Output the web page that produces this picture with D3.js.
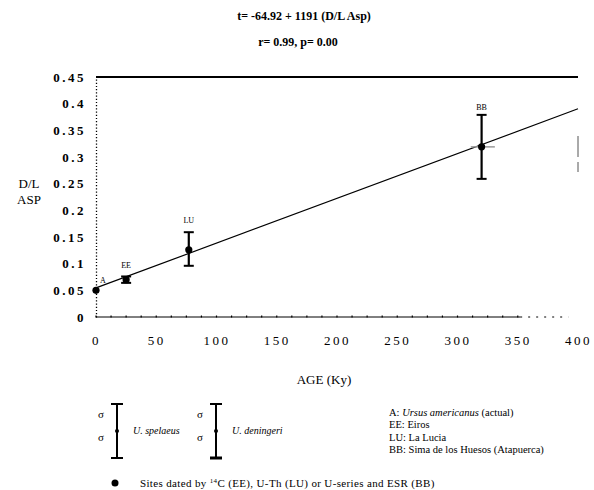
<!DOCTYPE html>
<html>
<head>
<meta charset="utf-8">
<script src="https://cdn.jsdelivr.net/npm/d3@7"></script>
<style>
  html, body { margin: 0; padding: 0; background: #fff; }
  svg { display: block; font-family: "Liberation Serif", "Times New Roman", serif; }
</style>
</head>
<body>
<svg id="chart" width="594" height="490"></svg>
<script>
// Sites and their aspartic acid racemization (D/L Asp) against age
const siteCodes = ["A", "EE", "LU", "BB"];
const siteAges = [0, 25, 77, 320];
const siteDL = [0.05, 0.070, 0.126, 0.319];
const dlLow = [null, 0.064, 0.096, 0.259];
const dlHigh = [null, 0.076, 0.159, 0.379];
const ageLow = [null, null, null, 311];
const ageHigh = [null, null, null, 331];

// Regression t = a + b * (D/L Asp)
const fitIntercept = -64.92;
const fitSlope = 1191;
const fitAges = [0, 400];

const xTicks = [0, 50, 100, 150, 200, 250, 300, 350, 400];
const yTicks = [0, 0.05, 0.1, 0.15, 0.2, 0.25, 0.3, 0.35, 0.4, 0.45];
const yTickLabels = ["0", "0.05", "0.1", "0.15", "0.2", "0.25", "0.3", "0.35", "0.4", "0.45"];

const siteNames = [
  ["A: ", "Ursus americanus", " (actual)"],
  ["EE: ", "", "Eiros"],
  ["LU: ", "", "La Lucia"],
  ["BB: ", "", "Sima de los Huesos (Atapuerca)"]
];
const speciesNames = ["U. spelaeus", "U. deningeri"];

const svg = d3.select("#chart");

const x = d3.scaleLinear().domain([0, 400]).range([96, 578]);
const y = d3.scaleLinear().domain([0, 0.45]).range([317, 77]);

// Header lines
svg.append("text").attr("x", 304).attr("y", 20).attr("text-anchor", "middle")
  .attr("font-size", 12).attr("font-weight", "bold")
  .text("t= -64.92 + 1191 (D/L Asp)");
svg.append("text").attr("x", 298).attr("y", 46).attr("text-anchor", "middle")
  .attr("font-size", 12).attr("font-weight", "bold")
  .text("r= 0.99, p= 0.00");

// Top frame line
svg.append("line").attr("x1", x(0)).attr("x2", x(400)).attr("y1", y(0.45)).attr("y2", y(0.45))
  .attr("stroke", "#000").attr("stroke-width", 2);

// Y axis (dotted)
const yAxis = d3.axisLeft(y).tickValues(yTicks).tickSize(0)
  .tickFormat((d, i) => yTickLabels[i]);
const gy = svg.append("g").attr("transform", `translate(${x(0)},0)`).call(yAxis);
gy.select(".domain").attr("stroke", "#000").attr("stroke-dasharray", "1.2,2").attr("stroke-width", 1.3);
gy.selectAll("text").attr("x", -10).attr("font-size", 13).attr("font-weight", "bold")
  .attr("letter-spacing", "2.5px").attr("font-family", "Liberation Serif").attr("fill", "#000");

// X axis: solid with small ticks, fading to dashes at the right end
const xAxis = d3.axisBottom(x).tickValues(xTicks).tickSize(0).tickFormat(d3.format("d"));
const gx = svg.append("g").attr("transform", `translate(0,${y(0)})`).call(xAxis);
gx.select(".domain").remove();
gx.selectAll("text").attr("dy", "1.9em").attr("font-size", 13)
  .attr("letter-spacing", "2.5px").attr("font-family", "Liberation Serif").attr("fill", "#000");
gx.append("line").attr("x1", x(0)).attr("x2", x(352)).attr("y1", 0).attr("y2", 0)
  .attr("stroke", "#000").attr("stroke-width", 1);
gx.append("line").attr("x1", x(352)).attr("x2", x(392)).attr("y1", 0).attr("y2", 0)
  .attr("stroke", "#000").attr("stroke-width", 1).attr("stroke-dasharray", "2,6");
gx.selectAll("line.minor").data(d3.range(0, 351, 12.5)).join("line").attr("class", "minor")
  .attr("x1", d => x(d)).attr("x2", d => x(d)).attr("y1", -1.5).attr("y2", 0.5)
  .attr("stroke", "#000").attr("stroke-width", 1.2);

// Axis titles
svg.append("text").attr("x", 324).attr("y", 384).attr("text-anchor", "middle")
  .attr("font-size", 13).text("AGE (Ky)");
svg.append("text").attr("x", 29).attr("y", 188).attr("text-anchor", "middle")
  .attr("font-size", 13).text("D/L");
svg.append("text").attr("x", 29).attr("y", 204).attr("text-anchor", "middle")
  .attr("font-size", 13).text("ASP");

// Regression line
svg.append("line")
  .attr("x1", x(fitAges[0])).attr("y1", y((fitAges[0] - fitIntercept) / fitSlope))
  .attr("x2", x(fitAges[1])).attr("y2", y((fitAges[1] - fitIntercept) / fitSlope))
  .attr("stroke", "#000").attr("stroke-width", 1.2);

// Error bars
const sites = siteCodes.map((c, i) => ({
  code: c, age: siteAges[i], dl: siteDL[i], lo: dlLow[i], hi: dlHigh[i],
  alo: ageLow[i], ahi: ageHigh[i]
}));
const eb = svg.append("g");
sites.filter(d => d.lo !== null).forEach(d => {
  const cx = x(d.age);
  eb.append("line").attr("x1", cx).attr("x2", cx).attr("y1", y(d.lo)).attr("y2", y(d.hi))
    .attr("stroke", "#000").attr("stroke-width", 2.2);
  [d.lo, d.hi].forEach(v => eb.append("line").attr("x1", cx - 5).attr("x2", cx + 5)
    .attr("y1", y(v)).attr("y2", y(v)).attr("stroke", "#000").attr("stroke-width", 2));
  if (d.alo !== null) {
    eb.append("line").attr("x1", x(d.alo)).attr("x2", x(d.ahi)).attr("y1", y(d.dl)).attr("y2", y(d.dl))
      .attr("stroke", "#999").attr("stroke-width", 1.5);
  }
});

// Site points and codes
svg.append("g").selectAll("circle").data(sites).join("circle")
  .attr("cx", d => x(d.age)).attr("cy", d => y(d.dl)).attr("r", 3.6).attr("fill", "#000");
const codeOffset = { A: [7, -7], EE: [0, -12], LU: [0, -27], BB: [0, -37] };
svg.append("g").selectAll("text").data(sites).join("text")
  .attr("x", d => x(d.age) + codeOffset[d.code][0])
  .attr("y", d => y(d.dl) + codeOffset[d.code][1])
  .attr("text-anchor", "middle").attr("font-size", 8).text(d => d.code);

// Stray vertical mark at the right edge
svg.append("line").attr("x1", 578).attr("x2", 578).attr("y1", 136).attr("y2", 157)
  .attr("stroke", "#555").attr("stroke-width", 1);
svg.append("line").attr("x1", 578).attr("x2", 578).attr("y1", 162).attr("y2", 172)
  .attr("stroke", "#555").attr("stroke-width", 1);

// Species legend (mean ± sigma)
const legendX = [117, 216];
speciesNames.forEach((name, i) => {
  const lx = legendX[i];
  const g = svg.append("g");
  g.append("line").attr("x1", lx).attr("x2", lx).attr("y1", 404).attr("y2", 458)
    .attr("stroke", "#000").attr("stroke-width", 2);
  [404, 458].forEach(v => g.append("line").attr("x1", lx - 6).attr("x2", lx + 6)
    .attr("y1", v).attr("y2", v).attr("stroke", "#000").attr("stroke-width", i === 1 && v === 458 ? 3 : 2));
  g.append("circle").attr("cx", lx).attr("cy", 431).attr("r", 2).attr("fill", "#000");
  g.append("text").attr("x", lx - 16).attr("y", 418).attr("text-anchor", "middle").attr("font-size", 11).text("σ");
  g.append("text").attr("x", lx - 16).attr("y", 441).attr("text-anchor", "middle").attr("font-size", 11).text("σ");
  g.append("text").attr("x", lx + 16).attr("y", 434).attr("font-size", 10).attr("font-style", "italic").text(name);
});

// Site key
const key = svg.append("g");
siteNames.forEach((parts, i) => {
  const t = key.append("text").attr("x", 389).attr("y", 416 + i * 12.3).attr("font-size", 10.5);
  t.append("tspan").text(parts[0]);
  if (parts[1]) t.append("tspan").attr("font-style", "italic").text(parts[1]);
  t.append("tspan").text(parts[2]);
});

// Dating note
svg.append("circle").attr("cx", 115).attr("cy", 483).attr("r", 3.5).attr("fill", "#000");
const note = svg.append("text").attr("x", 140).attr("y", 487).attr("font-size", 11)
  .attr("letter-spacing", "0.35px");
note.append("tspan").text("Sites dated by ");
note.append("tspan").attr("baseline-shift", "super").attr("font-size", 7).text("14");
note.append("tspan").text("C (EE), U-Th (LU) or U-series and ESR (BB)");
</script>
</body>
</html>
